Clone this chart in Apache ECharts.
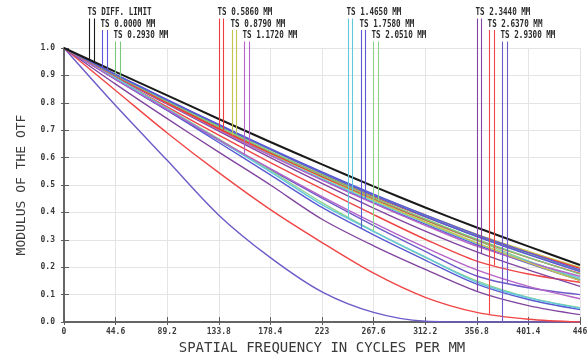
<!DOCTYPE html>
<html><head><meta charset="utf-8">
<script src="https://cdn.jsdelivr.net/npm/echarts@6/dist/echarts.min.js"></script>
<style>html,body{margin:0;padding:0;background:#fff}#c{width:588px;height:355px}</style>
</head><body><div id="c"></div>
<script>
// spatial frequency sample points (cycles/mm)
const freqTicks = [0, 44.6, 89.2, 133.8, 178.4, 223, 267.6, 312.2, 356.8, 401.4, 446];
const xTickLabels = ['0','44.6','89.2','133.8','178.4','223','267.6','312.2','356.8','401.4','446'];
const yTickLabels = ['0.0','0.1','0.2','0.3','0.4','0.5','0.6','0.7','0.8','0.9','1.0'];

// MTF values
const diffLimit = [1, 0.913, 0.827, 0.741, 0.657, 0.575, 0.495, 0.418, 0.345, 0.276, 0.208];
const f1T  = [1, 0.904, 0.812, 0.721, 0.633, 0.548, 0.467, 0.391, 0.319, 0.253, 0.190];
const f1S  = [1, 0.903, 0.810, 0.719, 0.630, 0.544, 0.462, 0.385, 0.312, 0.246, 0.184];
const f2T  = [1, 0.902, 0.809, 0.717, 0.628, 0.542, 0.461, 0.385, 0.313, 0.248, 0.187];
const f2S  = [1, 0.900, 0.805, 0.712, 0.622, 0.535, 0.453, 0.376, 0.302, 0.236, 0.175];
const f3T  = [1, 0.897, 0.799, 0.705, 0.616, 0.531, 0.450, 0.373, 0.300, 0.235, 0.177];
const f3S  = [1, 0.899, 0.802, 0.707, 0.620, 0.537, 0.458, 0.384, 0.314, 0.253, 0.196];
const f4T  = [1, 0.898, 0.800, 0.705, 0.615, 0.529, 0.445, 0.365, 0.289, 0.217, 0.151];
const f4S  = [1, 0.901, 0.807, 0.716, 0.629, 0.545, 0.465, 0.391, 0.320, 0.258, 0.199];
const f5T  = [1, 0.885, 0.775, 0.665, 0.560, 0.458, 0.362, 0.272, 0.190, 0.130, 0.085];
const f5S  = [1, 0.897, 0.798, 0.701, 0.608, 0.518, 0.433, 0.353, 0.277, 0.218, 0.167];
const f6T  = [1, 0.890, 0.778, 0.664, 0.548, 0.428, 0.330, 0.238, 0.145, 0.088, 0.050];
const f6S  = [1, 0.898, 0.799, 0.703, 0.611, 0.523, 0.440, 0.362, 0.287, 0.221, 0.160];
const f7T  = [1, 0.886, 0.772, 0.655, 0.537, 0.418, 0.318, 0.226, 0.138, 0.082, 0.045];
const f7S  = [1, 0.898, 0.799, 0.702, 0.609, 0.520, 0.436, 0.357, 0.282, 0.214, 0.152];
const f8T  = [1, 0.891, 0.780, 0.668, 0.553, 0.436, 0.332, 0.236, 0.150, 0.090, 0.052];
const f8S  = [1, 0.900, 0.803, 0.708, 0.617, 0.530, 0.448, 0.371, 0.297, 0.223, 0.155];
const f9T  = [1, 0.868, 0.742, 0.620, 0.500, 0.375, 0.278, 0.192, 0.112, 0.060, 0.027];
const f9S  = [1, 0.895, 0.795, 0.697, 0.600, 0.506, 0.416, 0.332, 0.256, 0.190, 0.130];
const f10T = [1, 0.845, 0.690, 0.545, 0.410, 0.290, 0.178, 0.090, 0.035, 0.010, 0];
const f10S = [1, 0.890, 0.785, 0.682, 0.582, 0.486, 0.392, 0.302, 0.222, 0.175, 0.145];
const f11T = [1, 0.790, 0.590, 0.390, 0.235, 0.110, 0.035, 0.003, 0, 0, 0];
const f11S = [1, 0.885, 0.773, 0.663, 0.556, 0.452, 0.352, 0.258, 0.168, 0.125, 0.100];

const fieldLabels = ['TS DIFF. LIMIT','TS 0.0000 MM','TS 0.2930 MM','TS 0.5860 MM','TS 0.8790 MM','TS 1.1720 MM',
                     'TS 1.4650 MM','TS 1.7580 MM','TS 2.0510 MM','TS 2.3440 MM','TS 2.6370 MM','TS 2.9300 MM'];
const fieldColors = ['#1a1a1a','#5a5ad8','#7cc87c','#f03c3c','#c4c450','#b464c8',
                     '#64c8dc','#5a5ad2','#8cd28c','#8246a0','#f04646','#6e5ac8'];
const tangential = [diffLimit, f1T, f2T, f3T, f4T, f5T, f6T, f7T, f8T, f9T, f10T, f11T];
const sagittal   = [diffLimit, f1S, f2S, f3S, f4S, f5S, f6S, f7S, f8S, f9S, f10S, f11S];
// frequencies where each legend's drop lines meet the curves
const legendFreqT = [21.6, 32.8, 44.1, 134.0, 145.2, 155.6, 245.5, 256.7, 267.1, 357.0, 367.4, 378.6];
const legendFreqS = [25.9, 37.2, 48.4, 137.4, 148.7, 159.9, 248.9, 260.2, 271.4, 360.4, 371.7, 382.9];

const chart = echarts.init(document.getElementById('c'), null, {renderer:'canvas'});
const pairs = arr => freqTicks.map((f,i)=>[f, arr[i]]);
const series = [];
for (let i = fieldLabels.length - 1; i >= 1; i--) {
  [tangential[i], sagittal[i]].forEach((arr, k) => series.push({
    type:'line', name: fieldLabels[i] + (k ? ' S' : ' T'), data: pairs(arr),
    smooth: 0.3, showSymbol:false, silent:true, clip:true,
    lineStyle:{color: fieldColors[i], width:1.4}
  }));
}
series.push({type:'line', name:'DIFF', data: pairs(diffLimit), smooth:0.3, showSymbol:false, silent:true,
  lineStyle:{color:'#1a1a1a', width:2}});

const axisCol = '#5e5e5e';
const lblFont = {fontFamily:'DejaVu Sans Mono', fontWeight:'bold', fontSize:8, color:'#3a3a3a'};
chart.setOption({
  animation:false,
  grid:{left:64, right:8, top:48, bottom:33, containLabel:false, outerBoundsMode:'none'},
  xAxis:[{
    type:'value', min:0, max:446, interval:44.6,
    name:'SPATIAL FREQUENCY IN CYCLES PER MM', nameLocation:'middle', nameGap:15,
    nameTextStyle:{fontFamily:'DejaVu Sans Mono', fontSize:14, color:'#3a3a3a'},
    axisLine:{lineStyle:{color:axisCol, width:1.5}},
    axisTick:{inside:true, length:5, lineStyle:{color:axisCol}},
    axisLabel:Object.assign({margin:6, formatter:v=>xTickLabels[Math.round(v/44.6)]}, lblFont),
    splitLine:{show:true, lineStyle:{color:'#e4e4e4', width:1}}
  },{
    type:'value', position:'top', min:0, max:446, interval:44.6,
    axisLine:{lineStyle:{color:axisCol, width:1.5}},
    axisTick:{inside:true, length:3, lineStyle:{color:axisCol}},
    axisLabel:{show:false}, splitLine:{show:false}
  }],
  yAxis:[{
    type:'value', min:0, max:1, interval:0.1,
    name:'MODULUS OF THE OTF', nameLocation:'middle', nameGap:36,
    nameTextStyle:{fontFamily:'DejaVu Sans Mono', fontSize:13, color:'#3a3a3a'},
    axisLine:{show:true, lineStyle:{color:axisCol, width:1.5}},
    axisTick:{show:true, inside:true, length:5, lineStyle:{color:axisCol}},
    axisLabel:Object.assign({margin:9, formatter:v=>yTickLabels[Math.round(v*10)]}, lblFont),
    splitLine:{show:true, lineStyle:{color:'#e4e4e4', width:1}}
  },{
    type:'value', position:'right', min:0, max:1, interval:0.1,
    axisLine:{show:true, lineStyle:{color:axisCol, width:1.5}},
    axisTick:{show:true, inside:true, length:3, lineStyle:{color:axisCol}},
    axisLabel:{show:false}, splitLine:{show:false}
  }],
  series: series
});

function interp(arr, f) {
  for (let i = 0; i < freqTicks.length - 1; i++) {
    if (f >= freqTicks[i] && f <= freqTicks[i+1]) {
      const t = (f - freqTicks[i]) / (freqTicks[i+1] - freqTicks[i]);
      return arr[i] + t * (arr[i+1] - arr[i]);
    }
  }
  return arr[arr.length-1];
}
const rowY = [12.5, 24, 35.5];
const graphics = [];
fieldLabels.forEach((lab, i) => {
  const ry = rowY[i % 3];
  const pT = chart.convertToPixel({xAxisIndex:0, yAxisIndex:0}, [legendFreqT[i], interp(tangential[i], legendFreqT[i])]);
  const pS = chart.convertToPixel({xAxisIndex:0, yAxisIndex:0}, [legendFreqS[i], interp(sagittal[i], legendFreqS[i])]);
  graphics.push({type:'text', x: pT[0]-1.5, y: ry, scaleX:0.76, scaleY:1, z:100,
    style:{text:lab, x:0, y:0, fill:'#2a2a2a', font:'bold 10px "DejaVu Sans Mono"', verticalAlign:'middle', align:'left'}});
  [pT, pS].forEach(p => graphics.push({type:'line', z:90, silent:true,
    shape:{x1:Math.round(p[0])+0.5, y1:ry+6, x2:Math.round(p[0])+0.5, y2:p[1]},
    style:{stroke: fieldColors[i], lineWidth:1.1}}));
});
chart.setOption({graphic: graphics});
</script></body></html>
